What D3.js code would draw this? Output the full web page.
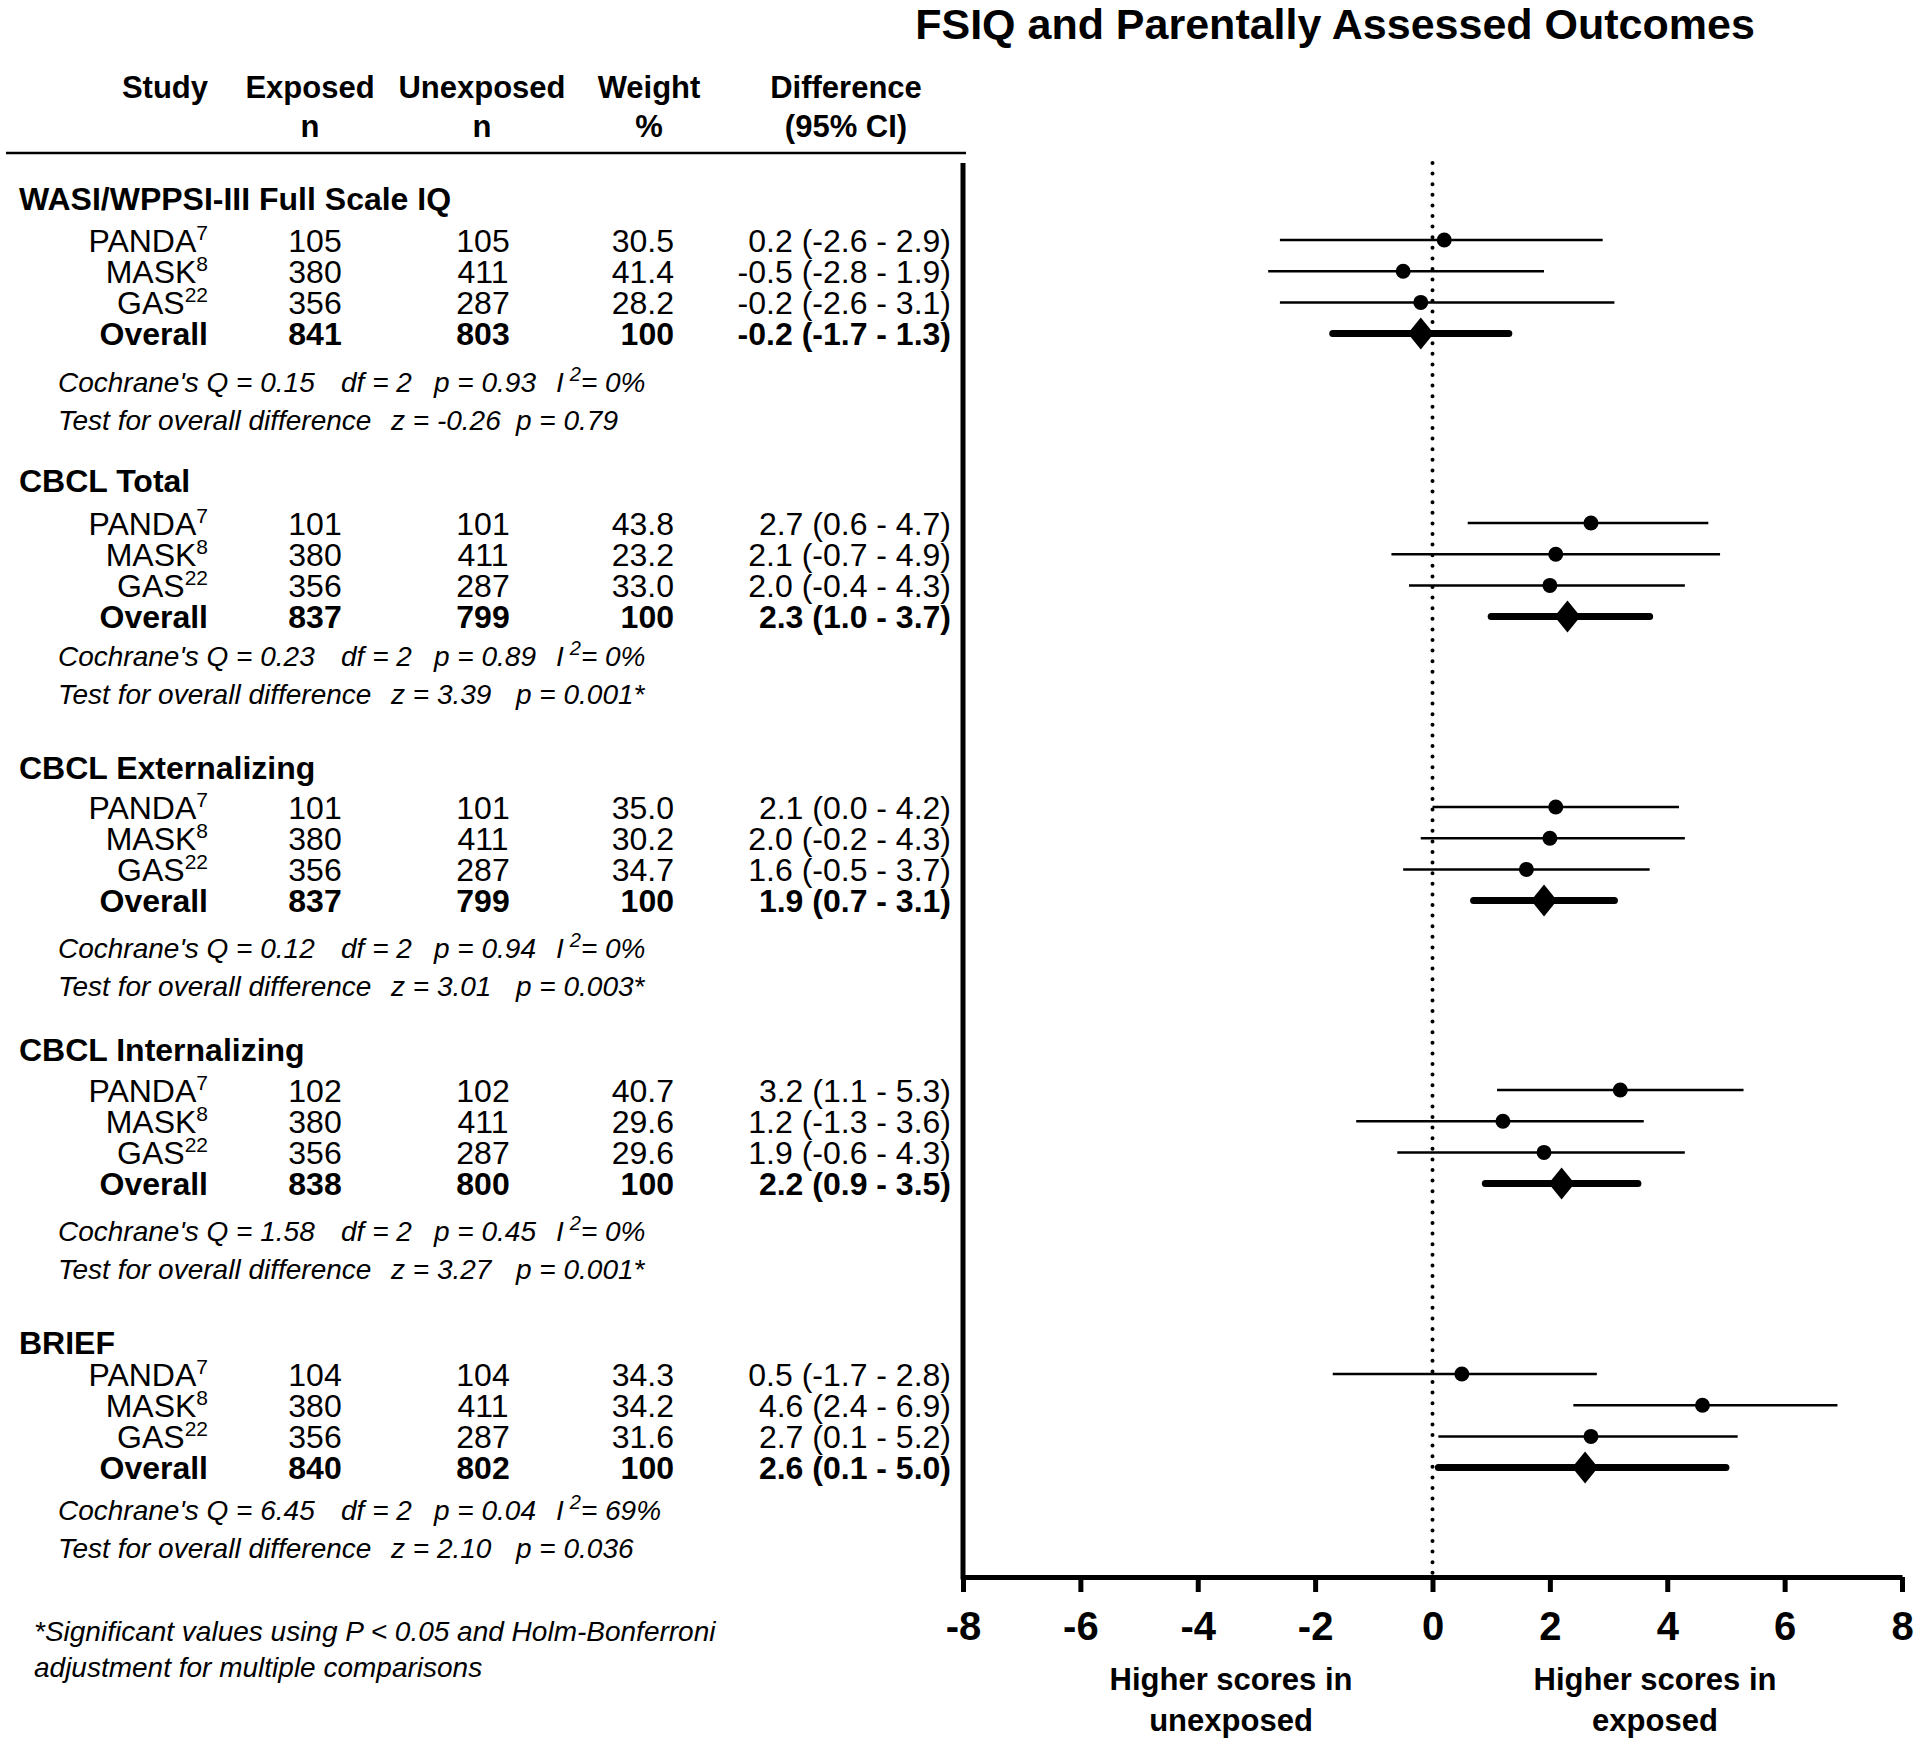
<!DOCTYPE html>
<html><head><meta charset="utf-8">
<script src="https://cdn.jsdelivr.net/npm/d3@7"></script>
<style>
body{margin:0;background:#fff}
svg text{font-family:"Liberation Sans",Arial,Helvetica,sans-serif;fill:#000}
</style>
</head><body>
<svg id="chart" width="1920" height="1746"></svg>
<script>
// ---------------- DATA ----------------
const title = "FSIQ and Parentally Assessed Outcomes";
const sections = ["WASI/WPPSI-III Full Scale IQ","CBCL Total","CBCL Externalizing","CBCL Internalizing","BRIEF"];
const studies = ["PANDA","MASK","GAS","Overall"];
const studyRefs = ["7","8","22",""];
const exposedN = [[105,380,356,841],[101,380,356,837],[101,380,356,837],[102,380,356,838],[104,380,356,840]];
const unexposedN = [[105,411,287,803],[101,411,287,799],[101,411,287,799],[102,411,287,800],[104,411,287,802]];
const weights = [["30.5","41.4","28.2","100"],["43.8","23.2","33.0","100"],["35.0","30.2","34.7","100"],["40.7","29.6","29.6","100"],["34.3","34.2","31.6","100"]];
const diffs = [[0.2,-0.5,-0.2,-0.2],[2.7,2.1,2.0,2.3],[2.1,2.0,1.6,1.9],[3.2,1.2,1.9,2.2],[0.5,4.6,2.7,2.6]];
const lowerCI = [[-2.6,-2.8,-2.6,-1.7],[0.6,-0.7,-0.4,1.0],[0.0,-0.2,-0.5,0.7],[1.1,-1.3,-0.6,0.9],[-1.7,2.4,0.1,0.1]];
const upperCI = [[2.9,1.9,3.1,1.3],[4.7,4.9,4.3,3.7],[4.2,4.3,3.7,3.1],[5.3,3.6,4.3,3.5],[2.8,6.9,5.2,5.0]];
const cochraneQ = ["0.15","0.23","0.12","1.58","6.45"];
const hetDf = ["2","2","2","2","2"];
const hetP = ["0.93","0.89","0.94","0.45","0.04"];
const iSquared = ["0%","0%","0%","0%","69%"];
const zValues = ["-0.26","3.39","3.01","3.27","2.10"];
const overallP = ["0.79","0.001*","0.003*","0.001*","0.036"];
const xTicks = [-8,-6,-4,-2,0,2,4,6,8];
const xLabelLeft = ["Higher scores in","unexposed"];
const xLabelRight = ["Higher scores in","exposed"];
const footnote = ["*Significant values using P < 0.05 and Holm-Bonferroni","adjustment for multiple comparisons"];

// ---------------- LAYOUT ----------------
const headerY = [198,480,767,1049,1342];
const rowStartY = [240,523,807,1090,1374];
const statsY = [382,656,948,1231,1510];
const rowStep = 31.2;

const svg = d3.select("#chart");
const x = d3.scaleLinear().domain([-8,8]).range([963,1902]);
const yRow = d3.scalePoint().domain(studies).range([0, rowStep*3]);
const plotTop = 163, axisY = 1577;

const fmt = v => v.toFixed(1);

// Title
svg.append("text").attr("x",1335).attr("y",39).attr("text-anchor","middle")
  .attr("font-size",43).attr("font-weight","bold").text(title);

// Column header
const hdr = svg.append("g").attr("font-size",31).attr("font-weight","bold");
hdr.append("text").attr("x",208).attr("y",98).attr("text-anchor","end").text("Study");
[[310,"Exposed","n"],[482,"Unexposed","n"],[649,"Weight","%"],[846,"Difference","(95% CI)"]].forEach(h=>{
  hdr.append("text").attr("x",h[0]).attr("y",98).attr("text-anchor","middle").text(h[1]);
  hdr.append("text").attr("x",h[0]).attr("y",137).attr("text-anchor","middle").text(h[2]);
});
svg.append("line").attr("x1",6).attr("x2",966).attr("y1",153).attr("y2",153)
  .attr("stroke","#000").attr("stroke-width",2.5);

// Table sections
sections.forEach((sec,s)=>{
  const g = svg.append("g");
  g.append("text").attr("x",19).attr("y",headerY[s]+11.5).attr("font-size",32)
    .attr("font-weight","bold").text(sec);
  studies.forEach((st,i)=>{
    const cy = rowStartY[s] + yRow(st);
    const by = cy + 11.5;
    const bold = st==="Overall" ? "bold" : "normal";
    const t = g.append("text").attr("x",208).attr("y",by).attr("text-anchor","end")
      .attr("font-size",32).attr("font-weight",bold);
    t.append("tspan").text(st);
    if (studyRefs[i]) t.append("tspan").attr("dy",-12).attr("font-size",21).text(studyRefs[i]);
    g.append("text").attr("x",315).attr("y",by).attr("text-anchor","middle").attr("font-size",32)
      .attr("font-weight",bold).text(exposedN[s][i]);
    g.append("text").attr("x",483).attr("y",by).attr("text-anchor","middle").attr("font-size",32)
      .attr("font-weight",bold).text(unexposedN[s][i]);
    g.append("text").attr("x",674).attr("y",by).attr("text-anchor","end").attr("font-size",32)
      .attr("font-weight",bold).text(weights[s][i]);
    g.append("text").attr("x",951).attr("y",by).attr("text-anchor","end").attr("font-size",32)
      .attr("font-weight",bold)
      .text(`${fmt(diffs[s][i])} (${fmt(lowerCI[s][i])} - ${fmt(upperCI[s][i])})`);
  });
  // stats lines
  const st1 = g.append("text").attr("y",statsY[s]+10).attr("font-size",28).attr("font-style","italic");
  st1.append("tspan").attr("x",58).text(`Cochrane's Q = ${cochraneQ[s]}`);
  st1.append("tspan").attr("x",341).text(`df = ${hetDf[s]}`);
  st1.append("tspan").attr("x",434).text(`p = ${hetP[s]}`);
  st1.append("tspan").attr("x",556).text("I");
  st1.append("tspan").attr("dx",6).attr("dy",-11).attr("font-size",20).text("2");
  st1.append("tspan").attr("dy",11).text(`= ${iSquared[s]}`);
  const st2 = g.append("text").attr("y",statsY[s]+48).attr("font-size",28).attr("font-style","italic");
  st2.append("tspan").attr("x",58).text("Test for overall difference");
  st2.append("tspan").attr("x",391).text(`z = ${zValues[s]}`);
  st2.append("tspan").attr("x",516).text(`p = ${overallP[s]}`);
});

// Footnote
footnote.forEach((f,i)=>{
  svg.append("text").attr("x",34).attr("y",1641+i*36).attr("font-size",28)
    .attr("font-style","italic").text(f);
});

// ---------------- PLOT ----------------
// dotted zero line
svg.append("line").attr("x1",x(0)).attr("x2",x(0)).attr("y1",plotTop).attr("y2",axisY-4)
  .attr("stroke","#000").attr("stroke-width",4).attr("stroke-linecap","round")
  .attr("stroke-dasharray","0 10.6");

// vertical left axis
svg.append("line").attr("x1",x(-8)).attr("x2",x(-8)).attr("y1",plotTop).attr("y2",axisY+2.5)
  .attr("stroke","#000").attr("stroke-width",5);

// x axis
const xAxis = d3.axisBottom(x).tickValues(xTicks).tickSize(15).tickSizeOuter(0).tickPadding(20)
  .tickFormat(d3.format("d"));
const ax = svg.append("g").attr("transform",`translate(0,${axisY})`).call(xAxis);
ax.select(".domain").attr("stroke","#000").attr("stroke-width",5);
ax.selectAll(".tick line").attr("stroke","#000").attr("stroke-width",5);
ax.selectAll(".tick text").attr("font-size",40).attr("font-weight","bold")
  .attr("font-family","'Liberation Sans',Arial,Helvetica,sans-serif").attr("fill","#000")
  .text(d => d < 0 ? "-" + Math.abs(d) : d);

// axis side labels
[[1231,xLabelLeft],[1655,xLabelRight]].forEach(([cx,lines])=>{
  lines.forEach((l,i)=>{
    svg.append("text").attr("x",cx).attr("y",1690+i*41).attr("text-anchor","middle")
      .attr("font-size",31).attr("font-weight","bold").text(l);
  });
});

// marks
sections.forEach((sec,s)=>{
  studies.forEach((st,i)=>{
    const cy = rowStartY[s] + yRow(st);
    if (st === "Overall") {
      svg.append("line").attr("x1",x(lowerCI[s][i])).attr("x2",x(upperCI[s][i]))
        .attr("y1",cy).attr("y2",cy).attr("stroke","#000").attr("stroke-width",7)
        .attr("stroke-linecap","round");
      const cx = x(diffs[s][i]), hw = 13, hh = 16;
      svg.append("path").attr("d",`M${cx-hw},${cy}L${cx},${cy-hh}L${cx+hw},${cy}L${cx},${cy+hh}Z`)
        .attr("fill","#000");
    } else {
      svg.append("line").attr("x1",x(lowerCI[s][i])).attr("x2",x(upperCI[s][i]))
        .attr("y1",cy).attr("y2",cy).attr("stroke","#000").attr("stroke-width",2.5);
      svg.append("circle").attr("cx",x(diffs[s][i])).attr("cy",cy).attr("r",7.5).attr("fill","#000");
    }
  });
});
</script>
</body></html>
